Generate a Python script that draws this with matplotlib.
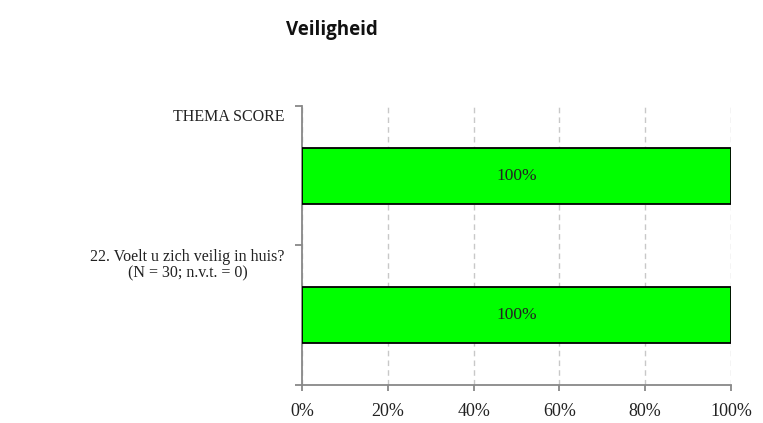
import matplotlib.pyplot as plt
import numpy as np

categories = ["THEMA SCORE", "22. Voelt u zich veilig in huis?\n(N = 30; n.v.t. = 0)"]
values = [100, 100]
bar_labels = ["100%", "100%"]
x_ticks = [0, 20, 40, 60, 80, 100]
x_tick_labels = ["0%", "20%", "40%", "60%", "80%", "100%"]

SERIF = ["Liberation Serif", "DejaVu Serif"]

fig = plt.figure(figsize=(7.63, 4.23), dpi=100)
ax = fig.add_axes([302 / 763, 1 - 385 / 423, 429 / 763, 279 / 423])

y = np.arange(len(categories))
ax.barh(y, values, height=0.40, color="#00FF00", edgecolor="black", linewidth=1.3, zorder=3)

for yi, v, lab in zip(y, values, bar_labels):
    ax.text(v / 2, yi, lab, ha="center", va="center", fontsize=12.5, family=SERIF, color="#222222", zorder=4)

# category labels sit just under the band boundaries
for yi, cat in zip(y, categories):
    ax.text(-0.04, yi - 0.5 + 0.025, cat, transform=ax.get_yaxis_transform(),
            ha="right", va="top", multialignment="center", fontsize=11.5, family=SERIF,
            color="#222222", linespacing=1.05)

ax.set_xlim(0, 100)
ax.set_ylim(len(categories) - 0.5, -0.5)
ax.set_yticks(np.arange(len(categories) + 1) - 0.5)
ax.set_yticklabels([])
ax.set_xticks(x_ticks)
ax.set_xticklabels(x_tick_labels, family=SERIF, fontsize=13, color="#222222")

ax.grid(axis="x", linestyle=(0, (4, 3)), color="#c8c8c8", linewidth=1, zorder=0)
for s in ["top", "right"]:
    ax.spines[s].set_visible(False)
for s in ["left", "bottom"]:
    ax.spines[s].set_color("#888888")
    ax.spines[s].set_linewidth(1.3)
ax.tick_params(axis="y", length=5, color="#888888", width=1.3)
ax.tick_params(axis="x", length=4, color="#888888", width=1.3, pad=9)

fig.text(332 / 763, 1 - 30 / 423, "Veiligheid", ha="center", va="center",
         fontsize=13.5, fontweight="bold", family=["Open Sans", "DejaVu Sans"], color="#111111")

fig.savefig("out.png", dpi=100)
